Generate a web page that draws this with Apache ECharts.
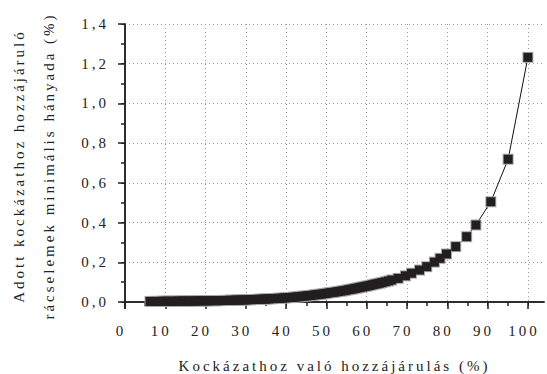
<!DOCTYPE html>
<html>
<head>
<meta charset="utf-8">
<script src="https://cdn.jsdelivr.net/npm/echarts@6/dist/echarts.min.js"></script>
<style>
    html, body { margin: 0; padding: 0; background: #fff; }
    #main { width: 547px; height: 374px; }
    /* the original is set with wide letter spacing */
    #main text { letter-spacing: 3px; }
</style>
</head>
<body>
<div id="main"></div>
<script>
    "use strict";

    // Data
    var xValues = [
        6.2, 6.8, 7.4, 8.0, 8.6, 9.2, 9.8, 10.4, 11.0, 11.6,
        12.2, 12.8, 13.4, 14.0, 14.6, 15.2, 15.8, 16.4, 17.0, 17.6,
        18.2, 18.8, 19.4, 20.0, 20.6, 21.2, 21.8, 22.4, 23.0, 23.6,
        24.2, 24.8, 25.4, 26.0, 26.6, 27.2, 27.8, 28.4, 29.0, 29.6,
        30.2, 30.8, 31.4, 32.0, 32.6, 33.2, 33.8, 34.4, 35.0, 35.6,
        36.2, 36.8, 37.4, 38.0, 38.6, 39.2, 39.8, 40.4, 41.0, 41.6,
        42.2, 42.8, 43.4, 44.0, 44.6, 45.2, 45.8, 46.4, 47.0, 47.6,
        48.2, 48.8, 49.4, 50.0, 50.6, 51.2, 51.8, 52.4, 53.0, 53.6,
        54.2, 54.8, 55.4, 56.0, 56.6, 57.2, 57.8, 58.4, 59.0, 59.6,
        60.2, 60.8, 61.4, 62.0, 62.6, 63.2, 63.8, 64.6, 65.4, 66.2,
        67.8, 69.6, 71.1, 73.1, 74.9, 76.8, 78.2, 79.8, 82.1, 84.8,
        87.1, 90.8, 95.1, 100
    ];
    var yValues = [
        0.003, 0.003, 0.003, 0.003, 0.003, 0.004, 0.004, 0.004, 0.004, 0.004,
        0.004, 0.004, 0.005, 0.005, 0.005, 0.005, 0.005, 0.005, 0.005, 0.006,
        0.006, 0.006, 0.006, 0.006, 0.006, 0.007, 0.007, 0.007, 0.007, 0.007,
        0.008, 0.008, 0.008, 0.009, 0.009, 0.009, 0.010, 0.010, 0.010, 0.011,
        0.011, 0.012, 0.012, 0.013, 0.013, 0.014, 0.014, 0.015, 0.015, 0.016,
        0.017, 0.017, 0.018, 0.019, 0.019, 0.020, 0.021, 0.022, 0.023, 0.024,
        0.025, 0.026, 0.027, 0.029, 0.030, 0.031, 0.033, 0.034, 0.036, 0.037,
        0.039, 0.040, 0.042, 0.044, 0.046, 0.048, 0.049, 0.051, 0.053, 0.055,
        0.057, 0.059, 0.062, 0.064, 0.066, 0.069, 0.071, 0.074, 0.076, 0.079,
        0.081, 0.084, 0.087, 0.090, 0.092, 0.095, 0.098, 0.102, 0.106, 0.111,
        0.119, 0.132, 0.145, 0.161, 0.178, 0.201, 0.220, 0.242, 0.279, 0.329,
        0.388, 0.505, 0.719, 1.232
    ];

    // Tick values
    var xTicks = [0, 10, 20, 30, 40, 50, 60, 70, 80, 90, 100];
    var xMinorTicks = [5, 15, 25, 35, 45, 55, 65, 75, 85, 95];
    var yTicks = [0, 0.2, 0.4, 0.6, 0.8, 1.0, 1.2, 1.4];
    var yMinorTicks = [0.1, 0.3, 0.5, 0.7, 0.9, 1.1, 1.3];

    var xName = 'Kockázathoz való hozzájárulás (%)';
    var yName = 'Adott kockázathoz hozzájáruló\nrácselemek minimális hányada (%)';

    var points = xValues.map(function (x, i) {
        return [x, yValues[i]];
    });

    var frameColor = '#222';
    var fontFamily = '"Liberation Serif", "DejaVu Serif", serif';

    var myChart = echarts.init(document.getElementById('main'), null, { renderer: 'svg' });

    var option = {
        animation: false,
        backgroundColor: '#fff',
        textStyle: { fontFamily: fontFamily },

        grid: {
            left: 125,
            right: 3,
            top: 24,
            bottom: 66,
            outerBoundsMode: 'none'
        },

        xAxis: [{
            // main bottom axis
            type: 'value',
            min: 0,
            max: 104,
            position: 'bottom',
            name: xName,
            nameLocation: 'middle',
            nameGap: 50,
            nameTextStyle: { fontSize: 15, color: '#222', fontFamily: fontFamily },
            axisLine: { show: true, lineStyle: { color: frameColor, width: 1.5 } },
            axisTick: { show: true, length: 7, customValues: xTicks, lineStyle: { color: frameColor, width: 1.5 } },
            axisLabel: {
                customValues: xTicks,
                margin: 15,
                padding: [0, 8, 0, 0],
                fontSize: 15,
                color: '#222',
                fontFamily: fontFamily
            },
            splitLine: {
                show: true,
                lineStyle: { color: '#999', width: 1, type: [1, 3] }
            }
        }, {
            // minor ticks
            type: 'value',
            min: 0,
            max: 104,
            position: 'bottom',
            axisLine: { show: false },
            axisTick: { show: true, length: 4, customValues: xMinorTicks, lineStyle: { color: frameColor, width: 1.5 } },
            axisLabel: { show: false },
            splitLine: { show: false }
        }, {
            // top frame
            type: 'value',
            min: 0,
            max: 104,
            position: 'top',
            axisLine: { show: true, lineStyle: { color: frameColor, width: 1.5 } },
            axisTick: { show: true, inside: true, length: 4, customValues: xTicks, lineStyle: { color: frameColor } },
            axisLabel: { show: false },
            splitLine: { show: false }
        }],

        yAxis: [{
            type: 'value',
            min: -0.03,
            max: 1.4,
            position: 'left',
            name: yName,
            nameLocation: 'middle',
            nameGap: 61,
            nameTextStyle: { fontSize: 15, lineHeight: 30, color: '#222', fontFamily: fontFamily },
            axisLine: { show: true, lineStyle: { color: frameColor, width: 1.5 } },
            axisTick: { show: true, length: 7, customValues: yTicks, lineStyle: { color: frameColor, width: 1.5 } },
            axisLabel: {
                customValues: yTicks,
                margin: 16,
                fontSize: 15,
                color: '#222',
                fontFamily: fontFamily,
                formatter: function (value) {
                    return value.toFixed(1).replace('.', ',');
                }
            },
            splitLine: {
                show: true,
                lineStyle: { color: '#999', width: 1, type: [1, 3] }
            }
        }, {
            // minor ticks
            type: 'value',
            min: -0.03,
            max: 1.4,
            position: 'left',
            axisLine: { show: false },
            axisTick: { show: true, length: 4, customValues: yMinorTicks, lineStyle: { color: frameColor, width: 1.5 } },
            axisLabel: { show: false },
            splitLine: { show: false }
        }, {
            // right frame
            type: 'value',
            min: -0.03,
            max: 1.4,
            position: 'right',
            axisLine: { show: true, lineStyle: { color: frameColor, width: 1.5 } },
            axisTick: { show: true, inside: true, length: 4, customValues: yTicks, lineStyle: { color: frameColor } },
            axisLabel: { show: false },
            splitLine: { show: false }
        }],

        series: [{
            // connecting line + light rim of the markers
            type: 'line',
            xAxisIndex: 0,
            yAxisIndex: 0,
            data: points,
            symbol: 'rect',
            symbolSize: 11,
            showAllSymbol: true,
            clip: false,
            lineStyle: { color: '#111', width: 1 },
            itemStyle: { color: '#a8a8a8' },
            z: 3
        }, {
            // dark square markers
            type: 'scatter',
            xAxisIndex: 0,
            yAxisIndex: 0,
            data: points,
            symbol: 'rect',
            symbolSize: 9,
            clip: false,
            itemStyle: { color: '#231f20', opacity: 1 },
            z: 4
        }]
    };

    myChart.setOption(option);
</script>
</body>
</html>
